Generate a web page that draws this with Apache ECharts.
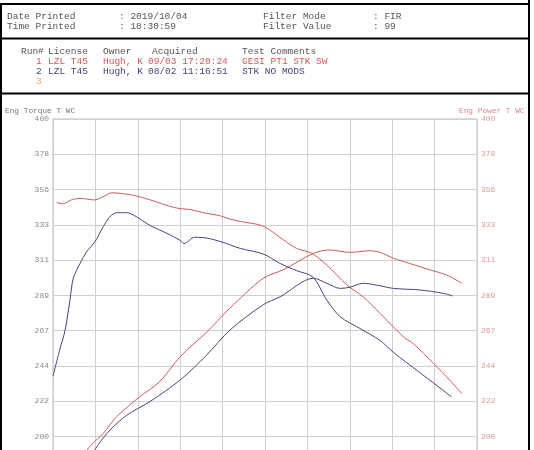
<!DOCTYPE html>
<html><head><meta charset="utf-8">
<script src="https://cdn.jsdelivr.net/npm/echarts@6/dist/echarts.min.js"></script>
<style>html,body{margin:0;padding:0;background:#fff}#c{width:534px;height:450px}</style>
</head><body><div id="c"></div>
<script>
// ---- data ----
const yTickValues = [400, 378, 356, 333, 311, 289, 267, 244, 222, 200];
const leftAxisTitle = "Eng Torque T WC";
const rightAxisTitle = "Eng Power T WC";
const headerLabels = ["Date Printed", "Time Printed", "Filter Mode", "Filter Value"];
const headerValues = [": 2019/10/04", ": 18:30:59", ": FIR", ": 99"];
const runColumns = ["Run#", "License", "Owner", "Acquired", "Test Comments"];
const run1 = ["1", "LZL T45", "Hugh, K", "09/03 17:20:24", "GESI PT1 STK SW"];
const run2 = ["2", "LZL T45", "Hugh, K", "08/02 11:16:51", "STK NO MODS"];
const run3 = ["3"];

// [rpm, value]
const run1Torque = [[1460,347.5],[1560,346.5],[1700,349],[1850,350],[2090,349],[2250,351.5],[2370,353.5],[2550,353],[2780,351.5],[3050,348.5],[3330,345],[3500,343.5],[3660,343],[3880,341],[4160,339],[4320,337],[4490,335.5],[4870,332.5],[5200,324],[5420,318.5],[5670,315.5],[5920,308],[6250,295.5],[6520,288],[6800,277.5],[7020,269],[7210,262],[7350,258.5],[7680,246],[7950,235.5],[8150,227]];
const run2Torque = [[1400,238],[1510,254.5],[1600,267],[1680,286],[1735,299.7],[1846,309],[1956,316.4],[2093,322.7],[2230,332.2],[2341,338.5],[2452,341],[2617,341],[2730,339.5],[3000,333],[3280,328],[3500,323.5],[3560,321.5],[3740,325.5],[3940,325],[4190,322.5],[4490,318.5],[4870,315],[5150,309],[5420,304.5],[5690,300.5],[5920,286],[6140,275.5],[6470,268],[6800,260.5],[7020,253],[7430,241],[7740,232],[7980,225]];
const run1Power = [[1850,186],[2040,195],[2230,202],[2450,212.5],[2830,225],[3160,234.5],[3500,250.3],[3930,265.5],[4320,280.8],[4870,299.7],[5200,305],[5700,315.4],[5970,317.5],[6300,316],[6630,317],[6800,316],[7020,312.3],[7290,309],[7620,305],[7900,301.7],[8150,296.5]];
const run2Power = [[2000,186],[2150,195],[2340,204],[2620,213.5],[3000,222],[3500,235.6],[3930,251],[4320,267],[4870,283],[5150,288],[5700,299.7],[5920,296.5],[6140,293.3],[6300,294],[6520,296.5],[6740,295.4],[7020,293.3],[7460,292.3],[7840,290.2],[8000,288.5]];

const RED = '#d25a5a', BLUE = '#44467e', ORANGE = '#e6b35a', GRAY = '#555';
const MONO = '"Liberation Mono", "DejaVu Sans Mono", monospace';

function txt(x, y, s, color, size) {
  return {type:'text', left:x, top:y, silent:true,
    style:{text:s, fill:color, font: (size||9.5)+'px ' + MONO}};
}
const graphics = [];
const line = (x1,y1,x2,y2,w) => ({type:'line', silent:true, shape:{x1,y1,x2,y2}, style:{stroke:'#000', lineWidth:w}});
graphics.push(line(0,4,530,4,2), line(0,38.5,530,38.5,2), line(0,93.5,530,93.5,2), line(1,3,1,450,2), line(529,0,529,450,2));
graphics.push(txt(7,11,headerLabels[0],GRAY), txt(7,21,headerLabels[1],GRAY),
  txt(119,11,headerValues[0],GRAY), txt(119,21,headerValues[1],GRAY),
  txt(263,11,headerLabels[2],GRAY), txt(263,21,headerLabels[3],GRAY),
  txt(373,11,headerValues[2],GRAY), txt(373,21,headerValues[3],GRAY));
const colX = [21,48,103,152,242];
runColumns.forEach((c,i)=>graphics.push(txt(colX[i],46,c,GRAY)));
const rowX = [36,48,103,148,242];
run1.forEach((c,i)=>graphics.push(txt(rowX[i],56,c,RED)));
run2.forEach((c,i)=>graphics.push(txt(rowX[i],66,c,BLUE)));
run3.forEach((c,i)=>graphics.push(txt(rowX[i],76,c,ORANGE)));
graphics.push(txt(5,107,leftAxisTitle,'#777',7.8), txt(459,107,rightAxisTitle,'#d98a8a',7.8));

const yInt = 400/18;
const fmt = v => String(Math.round(v));
const chart = echarts.init(document.getElementById('c'), null, {renderer:'canvas'});
chart.setOption({
  animation:false,
  backgroundColor:'#fff',
  grid:{left:53, top:119, width:424, height:635, outerBoundsMode:'none', containLabel:false,
    show:true, borderColor:'#bdbdbd', borderWidth:1},
  xAxis:{type:'value', min:1400, max:8400, interval:700,
    axisLine:{show:false}, axisTick:{show:false}, axisLabel:{show:false},
    splitLine:{show:true, lineStyle:{color:'#d0d0d0', width:1}}},
  yAxis:[
    {type:'value', min:0, max:400, interval:yInt, position:'left',
      axisLine:{show:false}, axisTick:{show:false},
      axisLabel:{formatter:fmt, color:'#8a8a8a', fontFamily:MONO, fontSize:8, margin:4},
      splitLine:{show:true, lineStyle:{color:'#d0d0d0', width:1}}},
    {type:'value', min:0, max:400, interval:yInt, position:'right',
      axisLine:{show:false}, axisTick:{show:false},
      axisLabel:{formatter:fmt, color:'#dc9a9a', fontFamily:MONO, fontSize:8, margin:4},
      splitLine:{show:false}}
  ],
  graphic: graphics,
  series:[
    {type:'line', name:'Run1 Torque', yAxisIndex:0, data:run1Torque, smooth:0.3, showSymbol:false, lineStyle:{color:RED, width:1}},
    {type:'line', name:'Run1 Power', yAxisIndex:1, data:run1Power, smooth:0.3, showSymbol:false, lineStyle:{color:RED, width:1}},
    {type:'line', name:'Run2 Torque', yAxisIndex:0, data:run2Torque, smooth:0.3, showSymbol:false, lineStyle:{color:BLUE, width:1}},
    {type:'line', name:'Run2 Power', yAxisIndex:1, data:run2Power, smooth:0.3, showSymbol:false, lineStyle:{color:BLUE, width:1}}
  ]
});
</script></body></html>
